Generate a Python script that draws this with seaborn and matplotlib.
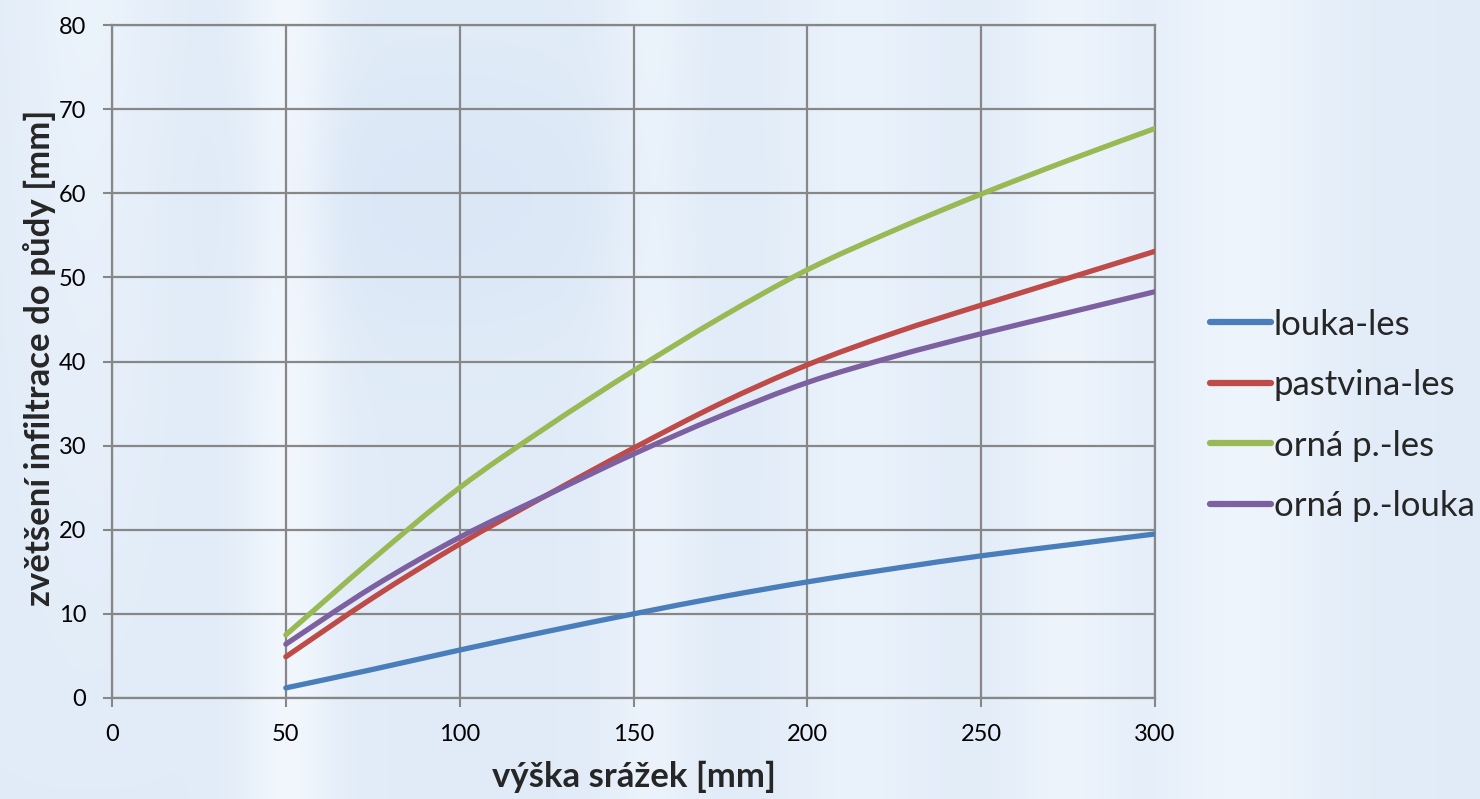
import numpy as np
import pandas as pd
import matplotlib
matplotlib.use("Agg")
import matplotlib.pyplot as plt
from matplotlib.path import Path
from matplotlib.patches import PathPatch
from matplotlib.lines import Line2D
import seaborn as sns

# Rainfall depth [mm]
precip = [50, 75, 100, 125, 150, 175, 200, 225, 250, 275, 300]

# Increase of soil infiltration [mm] for each land-use change
louka_les = [1.2, 3.4, 5.7, 7.9, 10.0, 12.0, 13.8, 15.4, 16.9, 18.2, 19.5]
pastvina_les = [4.9, 11.9, 18.3, 24.1, 29.7, 35.0, 39.6, 43.4, 46.7, 49.9, 53.1]
orna_les = [7.5, 16.5, 25.0, 32.2, 38.9, 45.2, 50.9, 55.6, 59.9, 63.9, 67.7]
orna_louka = [6.4, 13.2, 19.1, 24.1, 29.0, 33.5, 37.5, 40.6, 43.3, 45.8, 48.3]

series_names = ["louka-les", "pastvina-les", "orná p.-les", "orná p.-louka"]
series_colors = ["#4a7ebb", "#be4b48", "#98b954", "#7d60a0"]

x_ticks = [0, 50, 100, 150, 200, 250, 300]
y_ticks = [0, 10, 20, 30, 40, 50, 60, 70, 80]

sns.set_theme(style="white")
plt.rcParams["font.family"] = ["Lato", "DejaVu Sans"]

W, H = 1480, 799
fig = plt.figure(figsize=(W / 100, H / 100), dpi=100)

# Soft, watery light-blue backdrop
bg = fig.add_axes([0, 0, 1, 1], zorder=0)
xx, yy = np.meshgrid(np.linspace(0, 1, W), np.linspace(0, 1, H))
light = (0.65 * np.exp(-((xx - 0.195) / 0.03) ** 2)
         + 0.40 * np.exp(-((xx - 0.44) / 0.03) ** 2)
         + 0.35 * np.exp(-((xx - 0.58) / 0.05) ** 2)
         + 0.45 * np.exp(-((xx - 0.72) / 0.04) ** 2)
         + 0.50 * np.exp(-((xx - 0.84) / 0.06) ** 2)
         + 0.40 * np.exp(-((xx - 0.06) / 0.05) ** 2) * (1 - yy)
         + 0.20)
light -= 0.35 * np.exp(-(((xx - 0.30) / 0.12) ** 2 + ((yy - 0.25) / 0.15) ** 2))
base = np.array([0.865, 0.912, 0.968])
white = np.array([0.960, 0.978, 0.996])
img = base + (white - base) * np.clip(light, 0, 1)[..., None]
img -= 0.03 * np.clip(-light, 0, 1)[..., None]
bg.imshow(np.clip(img, 0, 1), aspect="auto", extent=[0, 1, 0, 1], origin="upper")
bg.set_axis_off()

ax = fig.add_axes([112 / W, 1 - 698 / H, 1043 / W, 673 / H], zorder=1)
ax.patch.set_alpha(0)

df = pd.DataFrame({"precip": precip,
                   series_names[0]: louka_les,
                   series_names[1]: pastvina_les,
                   series_names[2]: orna_les,
                   series_names[3]: orna_louka})
long = df.melt(id_vars="precip", var_name="series", value_name="infiltration")

sns.lineplot(data=long, x="precip", y="infiltration", hue="series",
             hue_order=series_names, palette=series_colors,
             linewidth=3.8, ax=ax, legend=False)


def smooth_path(xs, ys):
    """Cubic Bezier path through the points (Catmull-Rom tangents)."""
    p = np.column_stack([xs, ys]).astype(float)
    ext = np.vstack([p[0], p, p[-1]])
    verts = [tuple(p[0])]
    codes = [Path.MOVETO]
    for i in range(len(p) - 1):
        p0, p1, p2, p3 = ext[i], ext[i + 1], ext[i + 2], ext[i + 3]
        c1 = p1 + (p2 - p0) / 6.0
        c2 = p2 - (p3 - p1) / 6.0
        verts += [tuple(c1), tuple(c2), tuple(p2)]
        codes += [Path.CURVE4] * 3
    return Path(verts, codes)


# Render each seaborn line as a smoothed curve through the same points
for line in list(ax.lines):
    xs, ys = line.get_xdata(), line.get_ydata()
    patch = PathPatch(smooth_path(xs, ys), facecolor="none",
                      edgecolor=line.get_color(), linewidth=3.8,
                      capstyle="round", joinstyle="round", zorder=3)
    ax.add_patch(patch)
    line.set_visible(False)

ax.set_xlim(0, 300)
ax.set_ylim(0, 80)
ax.set_xticks(x_ticks)
ax.set_yticks(y_ticks)
grid_col = "#878787"
ax.grid(True, color=grid_col, linewidth=1.6)
for s in ax.spines.values():
    s.set_color(grid_col)
    s.set_linewidth(1.6)
ax.tick_params(axis="both", which="both", direction="out", length=6.5,
               width=1.5, color=grid_col, labelsize=17, labelcolor="black",
               left=True, bottom=True)
ax.tick_params(axis="x", pad=12)
ax.tick_params(axis="y", pad=12)

ax.set_xlabel("výška srážek [mm]", fontsize=25, fontweight="bold")
ax.set_ylabel("zvětšení infiltrace do půdy [mm]", fontsize=25, fontweight="bold")
ax.xaxis.set_label_coords(0.5, -0.093)
ax.yaxis.set_label_coords(-0.054, 0.505)

handles = [Line2D([0], [0], color=c, linewidth=4.5, solid_capstyle="round")
           for c in series_colors]
ax.legend(handles, series_names, loc="center left",
          bbox_to_anchor=(1.053, 0.42), frameon=False,
          fontsize=25, handlelength=1.75, handletextpad=0.08,
          labelspacing=0.82, borderpad=0, borderaxespad=0)

fig.savefig("out.png", dpi=100)
